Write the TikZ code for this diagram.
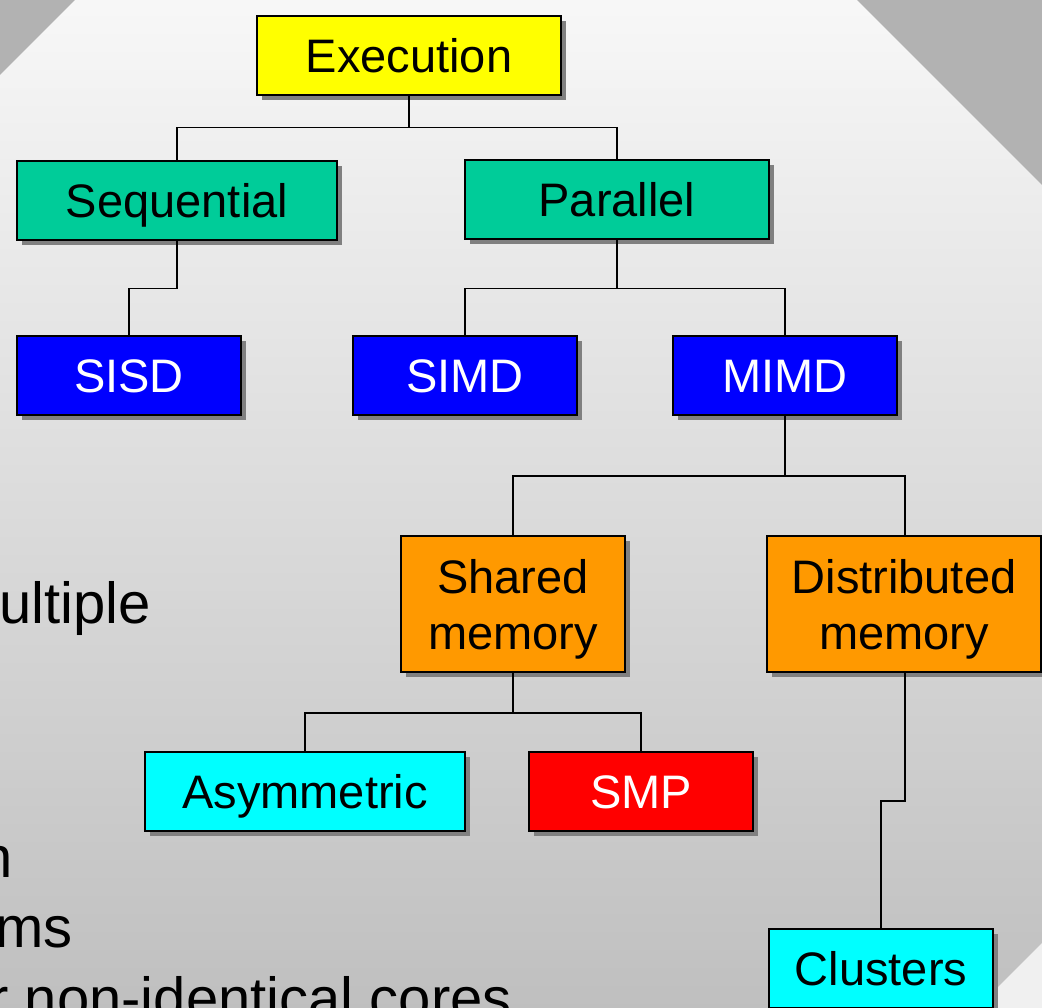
\documentclass[tikz,border=0pt]{standalone}
\usepackage{fontspec}
\setmainfont{Liberation Sans}
\usetikzlibrary{shadows}

\definecolor{execyel}{HTML}{FFFF00}
\definecolor{modegrn}{HTML}{00CC99}
\definecolor{flynblu}{HTML}{0000FF}
\definecolor{memorng}{HTML}{FF9900}
\definecolor{leafcyn}{HTML}{00FFFF}
\definecolor{smpred}{HTML}{FF0000}
\definecolor{cornergry}{HTML}{B2B2B2}

\newcommand{\toppad}{\rule{0pt}{44pt}}

\begin{document}
\begin{tikzpicture}
            [x=1pt,y=-1pt,
             box/.style={draw, line width=1.6pt, inner sep=0pt, minimum height=79pt,
               align=center, font=\fontsize{47}{56}\selectfont,
               drop shadow={shadow xshift=5pt, shadow yshift=-5pt, fill=black!50, opacity=1}},
             oneline/.style={box, text height=34pt, text depth=0pt},
             twoline/.style={box, minimum height=136pt},
             link/.style={line width=1.4pt},
             behind/.style={anchor=base east, inner sep=0pt, font=\fontsize{58}{70}\selectfont}]

            \useasboundingbox (0,0) rectangle (1042,1008);
            \clip (0,0) rectangle (1042,1008);

            % slide background
            \shade[top color=black!3, bottom color=black!25] (0,0) rectangle (1042,1008);
            \fill[cornergry] (0,0) -- (75,0) -- (0,75) -- cycle;
            \fill[cornergry] (857,0) -- (1042,0) -- (1042,185) -- cycle;
            \fill[black!6] (977,1008) -- (1042,943) -- (1042,1008) -- cycle;

            % text of the slide, mostly hidden
            \node[behind] (t1) at (151,623) {ultiple};
            \node[behind] (t2) at (13,877) {n};
            \node[behind] (t3) at (73,947) {ms};
            \node[behind] (t4) at (512,1018) {r non-identical cores};

            \node[oneline, fill=execyel, minimum width=304pt] (exe) at (409,55.5) {Execution};
            \node[oneline, fill=modegrn, minimum width=320pt] (seq) at (177,200.5) {Sequential};
            \node[oneline, fill=modegrn, minimum width=304pt] (par) at (617,199.5) {Parallel};
            \node[oneline, fill=flynblu, text=white, minimum width=224pt] (sisd) at (129,375.5) {SISD};
            \node[oneline, fill=flynblu, text=white, minimum width=224pt] (simd) at (465,375.5) {SIMD};
            \node[oneline, fill=flynblu, text=white, minimum width=224pt] (mimd) at (785,375.5) {MIMD};
            \node[twoline, fill=memorng, minimum width=224pt] (shm) at (513,604) {\toppad Shared\\memory};
            \node[twoline, fill=memorng, minimum width=274pt] (dsm) at (904,604) {\toppad Distributed\\memory};
            \node[oneline, fill=leafcyn, minimum width=320pt] (asy) at (305,791.5) {Asymmetric};
            \node[oneline, fill=smpred, text=white, minimum width=224pt] (smp) at (641,791.5) {SMP};
            \node[oneline, fill=leafcyn, minimum width=224pt] (clu) at (881,968.5) {Clusters};

            \draw[link] (exe.south) -- ++(0,32) -| (seq.north);
            \draw[link] (exe.south) -- ++(0,32) -| (par.north);
            \draw[link] (seq.south) -- ++(0,48) -| (sisd.north);
            \draw[link] (par.south) -- ++(0,49) -| (simd.north);
            \draw[link] (par.south) -- ++(0,49) -| (mimd.north);
            \draw[link] (mimd.south) -- ++(0,60) -| (shm.north);
            \draw[link] (mimd.south) -- ++(0,60) -| ([xshift=1pt]dsm.north);
            \draw[link] (shm.south) -- ++(0,40) -| (asy.north);
            \draw[link] (shm.south) -- ++(0,40) -| (smp.north);
            \draw[link] ([xshift=1pt]dsm.south) -- ++(0,128) -| (clu.north);
        \end{tikzpicture}
\end{document}
